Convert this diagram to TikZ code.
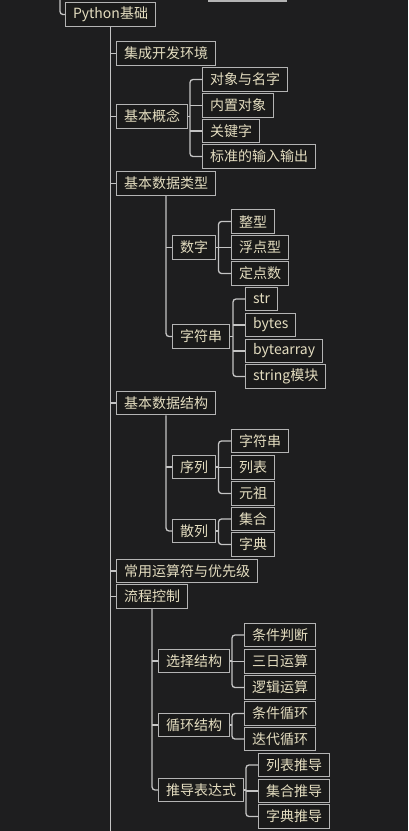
\documentclass[tikz,border=0pt]{standalone}
\usepackage{fontspec}
\setmainfont{Noto Sans CJK SC}
\usetikzlibrary{positioning}
\definecolor{Board}{HTML}{1E1E1F}
\definecolor{BoxFill}{HTML}{1A1A1A}
\definecolor{Frame}{HTML}{B4B4B4}
\definecolor{Wire}{HTML}{C4C4C4}
\definecolor{Label}{HTML}{E4DDC0}
\tikzset{
  topic/.style={draw=Frame,fill=BoxFill,text=Label,line width=1.1pt,
    minimum height=23.5pt,inner xsep=7.5pt,inner ysep=0pt,anchor=west,
    font=\fontsize{14}{16}\selectfont},
  wire/.style={draw=Wire,line width=1.3pt,rounded corners=3pt}
}

\begin{document}
\begin{tikzpicture}[x=1pt,y=-1pt]
\fill[Board] (0,0) rectangle (408,831);
\clip (0,0) rectangle (408,831);
\coordinate (above) at (60,-10);
\coordinate (bottom) at (0,840);
% level 0
\node[topic,anchor=south west,minimum width=78pt] (prev) at (208,1.5) {};
\node[topic] (py) at (65,14.5) {Python基础};
% level 1
\node[topic] (ide) at (116,53.5) {集成开发环境};
\node[topic] (concept) at (116,116.5) {基本概念};
\node[topic] (types) at (116,183.5) {基本数据类型};
\node[topic] (struct) at (116,403) {基本数据结构};
\node[topic] (ops) at (116,571) {常用运算符与优先级};
\node[topic] (flow) at (116,596.5) {流程控制};
% basic concepts
\node[topic] (obj) at (202,79.5) {对象与名字};
\node[topic] (builtin) at (202,105.5) {内置对象};
\node[topic] (keyword) at (202,131) {关键字};
\node[topic] (stdio) at (202,156.5) {标准的输入输出};
% data types
\node[topic] (number) at (172,247.5) {数字};
\node[topic] (intg) at (231,221.5) {整型};
\node[topic] (floatn) at (231,247.5) {浮点型};
\node[topic] (fixedn) at (231,273.5) {定点数};
\node[topic] (string) at (172,336.5) {字符串};
\node[topic] (sstr) at (245,299) {str};
\node[topic] (sbytes) at (245,325) {bytes};
\node[topic] (sbarray) at (245,351) {bytearray};
\node[topic] (smod) at (245,376.5) {string模块};
% data structures
\node[topic] (seq) at (172,467) {序列};
\node[topic] (seqstr) at (231,441) {字符串};
\node[topic] (seqlist) at (231,467.5) {列表};
\node[topic] (seqtuple) at (231,493.5) {元祖};
\node[topic] (hashd) at (172,531) {散列};
\node[topic] (hset) at (231,519) {集合};
\node[topic] (hdict) at (231,544.5) {字典};
% flow control
\node[topic] (select) at (158,661) {选择结构};
\node[topic] (condjudge) at (244,635) {条件判断};
\node[topic] (ternary) at (244,661.5) {三日运算};
\node[topic] (logic) at (244,687.5) {逻辑运算};
\node[topic] (loop) at (158,725) {循环结构};
\node[topic] (condloop) at (244,713.5) {条件循环};
\node[topic] (iterloop) at (244,739) {迭代循环};
\node[topic] (comp) at (158,790) {推导表达式};
\node[topic] (listcomp) at (258,765) {列表推导};
\node[topic] (setcomp) at (258,791) {集合推导};
\node[topic] (dictcomp) at (258,816.5) {字典推导};
% hanging links
\draw[wire] (above) |- (py.west);
\draw[wire] (py.south) -- (py.south |- bottom);
\foreach \n in {ide,concept,types,struct,ops,flow}
  \draw[wire] (py.south |- \n.west) -- (\n.west);
\draw[wire] (types.south) |- (string.west);
\draw[wire] (types.south |- number.west) -- (number.west);
\draw[wire] (struct.south) |- (hashd.west);
\draw[wire] (struct.south |- seq.west) -- (seq.west);
\draw[wire] (flow.south) |- (comp.west);
\foreach \n in {select,loop}
  \draw[wire] (flow.south |- \n.west) -- (\n.west);
% bracket links
\coordinate (conceptbar) at ([xshift=-12pt]obj.west);
\draw[wire] (concept.east) -- (conceptbar |- concept.east);
\draw[wire] (obj.west) -- (conceptbar) |- (stdio.west);
\foreach \n in {builtin,keyword}
  \draw[wire] (conceptbar |- \n.west) -- (\n.west);
\coordinate (numberbar) at ([xshift=-12.5pt]intg.west);
\draw[wire] (number.east) -- (numberbar |- number.east);
\draw[wire] (intg.west) -- (numberbar) |- (fixedn.west);
\draw[wire] (numberbar |- floatn.west) -- (floatn.west);
\coordinate (stringbar) at ([xshift=-12pt]sstr.west);
\draw[wire] (string.east) -- (stringbar |- string.east);
\draw[wire] (sstr.west) -- (stringbar) |- (smod.west);
\foreach \n in {sbytes,sbarray}
  \draw[wire] (stringbar |- \n.west) -- (\n.west);
\coordinate (seqbar) at ([xshift=-12.5pt]seqstr.west);
\draw[wire] (seq.east) -- (seqbar |- seq.east);
\draw[wire] (seqstr.west) -- (seqbar) |- (seqtuple.west);
\draw[wire] (seqbar |- seqlist.west) -- (seqlist.west);
\coordinate (hashbar) at ([xshift=-12.5pt]hset.west);
\draw[wire] (hashd.east) -- (hashbar |- hashd.east);
\draw[wire] (hset.west) -- (hashbar) |- (hdict.west);
\coordinate (selectbar) at ([xshift=-12pt]condjudge.west);
\draw[wire] (select.east) -- (selectbar |- select.east);
\draw[wire] (condjudge.west) -- (selectbar) |- (logic.west);
\draw[wire] (selectbar |- ternary.west) -- (ternary.west);
\coordinate (loopbar) at ([xshift=-12pt]condloop.west);
\draw[wire] (loop.east) -- (loopbar |- loop.east);
\draw[wire] (condloop.west) -- (loopbar) |- (iterloop.west);
\coordinate (compbar) at ([xshift=-12pt]listcomp.west);
\draw[wire] (comp.east) -- (compbar |- comp.east);
\draw[wire] (listcomp.west) -- (compbar) |- (dictcomp.west);
\draw[wire] (compbar |- setcomp.west) -- (setcomp.west);
\end{tikzpicture}
\end{document}
